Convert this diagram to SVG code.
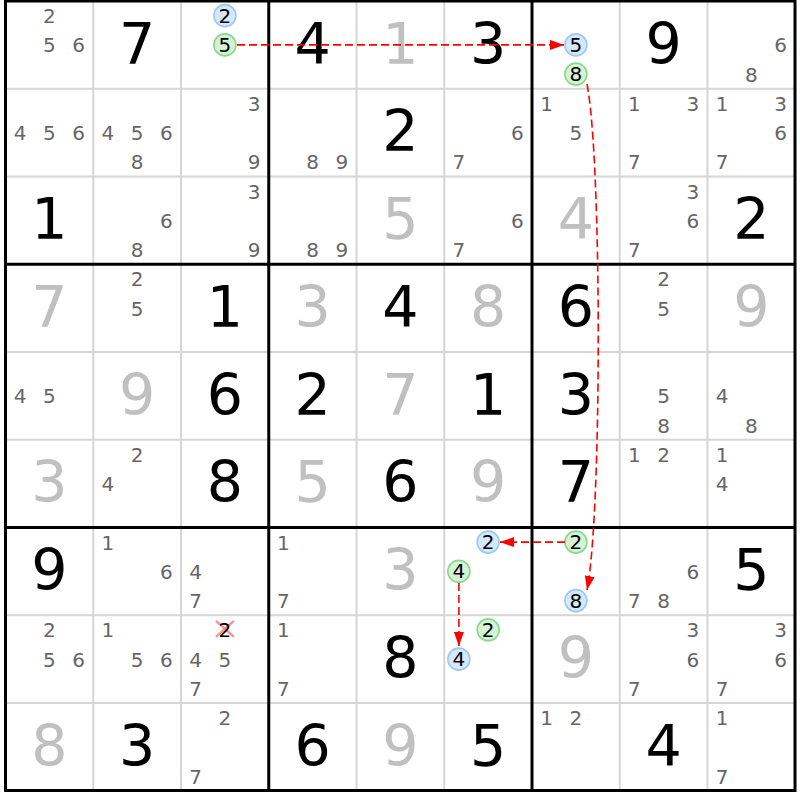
<svg xmlns="http://www.w3.org/2000/svg" width="800" height="800" viewBox="0 0 800 800">
<defs>
<style>
text{font-family:"DejaVu Sans","Liberation Sans",sans-serif;text-anchor:middle}
.g{font-size:57px;fill:#000}
.s{font-size:57px;fill:#c0c0c0}
.c{font-size:20px;fill:#666}
.k{font-size:20px;fill:#000}
.thin{stroke:#d6d6d6;stroke-width:2}
.thick{stroke:#000;stroke-width:3;fill:none}
.cb{fill:#d6e8fb;stroke:#9cc9f4;stroke-width:1.6}
.cg{fill:#d6f3d6;stroke:#8ad88a;stroke-width:1.6}
.arr{stroke:#ff0000;stroke-width:1.6;stroke-dasharray:8 4;fill:none;marker-end:url(#ah)}
.x{stroke:#f07a7a;stroke-width:2.4;stroke-opacity:0.8}
</style>
<marker id="ah" markerUnits="userSpaceOnUse" markerWidth="15" markerHeight="11" refX="14" refY="5" orient="auto">
<path d="M0,0 L14,5 L0,10 z" fill="#ff0000"/>
</marker>
</defs>
<rect width="800" height="800" fill="#fff"/>
<g id="grid">
<g class="thin">
<line x1="93.25" y1="1" x2="93.25" y2="790"/><line x1="181" y1="1" x2="181" y2="790"/>
<line x1="356.5" y1="1" x2="356.5" y2="790"/><line x1="444.25" y1="1" x2="444.25" y2="790"/>
<line x1="619.75" y1="1" x2="619.75" y2="790"/><line x1="707.5" y1="1" x2="707.5" y2="790"/>
<line x1="5.5" y1="88.75" x2="795" y2="88.75"/><line x1="5.5" y1="176.5" x2="795" y2="176.5"/>
<line x1="5.5" y1="352" x2="795" y2="352"/><line x1="5.5" y1="439.75" x2="795" y2="439.75"/>
<line x1="5.5" y1="615.25" x2="795" y2="615.25"/><line x1="5.5" y1="703" x2="795" y2="703"/>
</g>
<g class="thick">
<line x1="268.75" y1="1" x2="268.75" y2="790"/><line x1="532" y1="1" x2="532" y2="790"/>
<line x1="5.5" y1="264.25" x2="795" y2="264.25"/><line x1="5.5" y1="527.5" x2="795" y2="527.5"/>
<rect x="5.5" y="1" width="789.5" height="789.5"/>
</g>
</g>
<g id="cells">
<!-- row 1 -->
<g id="r1c1" transform="translate(5.5,1)"><text class="c" x="43.9" y="22.1">2</text><text class="c" x="43.9" y="51.4">5</text><text class="c" x="73.1" y="51.4">6</text></g>
<g id="r1c2" transform="translate(93.25,1)"><text class="g" x="43.9" y="62.5">7</text></g>
<g id="r1c3" transform="translate(181,1)"><circle class="cb" cx="43.9" cy="14.6" r="11"/><text class="k" x="43.9" y="21.6">2</text><circle class="cg" cx="43.9" cy="43.9" r="11"/><text class="k" x="43.9" y="50.9">5</text></g>
<g id="r1c4" transform="translate(268.75,1)"><text class="g" x="43.9" y="62.5">4</text></g>
<g id="r1c5" transform="translate(356.5,1)"><text class="s" x="43.9" y="62.5">1</text></g>
<g id="r1c6" transform="translate(444.25,1)"><text class="g" x="43.9" y="62.5">3</text></g>
<g id="r1c7" transform="translate(532,1)"><circle class="cb" cx="43.9" cy="43.9" r="11"/><text class="k" x="43.9" y="50.9">5</text><circle class="cg" cx="43.9" cy="73.1" r="11"/><text class="k" x="43.9" y="80.1">8</text></g>
<g id="r1c8" transform="translate(619.75,1)"><text class="g" x="43.9" y="62.5">9</text></g>
<g id="r1c9" transform="translate(707.5,1)"><text class="c" x="73.1" y="51.4">6</text><text class="c" x="43.9" y="80.6">8</text></g>
<!-- row 2 -->
<g id="r2c1" transform="translate(5.5,88.75)"><text class="c" x="14.6" y="51.4">4</text><text class="c" x="43.9" y="51.4">5</text><text class="c" x="73.1" y="51.4">6</text></g>
<g id="r2c2" transform="translate(93.25,88.75)"><text class="c" x="14.6" y="51.4">4</text><text class="c" x="43.9" y="51.4">5</text><text class="c" x="73.1" y="51.4">6</text><text class="c" x="43.9" y="80.6">8</text></g>
<g id="r2c3" transform="translate(181,88.75)"><text class="c" x="73.1" y="22.1">3</text><text class="c" x="73.1" y="80.6">9</text></g>
<g id="r2c4" transform="translate(268.75,88.75)"><text class="c" x="43.9" y="80.6">8</text><text class="c" x="73.1" y="80.6">9</text></g>
<g id="r2c5" transform="translate(356.5,88.75)"><text class="g" x="43.9" y="62.5">2</text></g>
<g id="r2c6" transform="translate(444.25,88.75)"><text class="c" x="73.1" y="51.4">6</text><text class="c" x="14.6" y="80.6">7</text></g>
<g id="r2c7" transform="translate(532,88.75)"><text class="c" x="14.6" y="22.1">1</text><text class="c" x="43.9" y="51.4">5</text></g>
<g id="r2c8" transform="translate(619.75,88.75)"><text class="c" x="14.6" y="22.1">1</text><text class="c" x="73.1" y="22.1">3</text><text class="c" x="14.6" y="80.6">7</text></g>
<g id="r2c9" transform="translate(707.5,88.75)"><text class="c" x="14.6" y="22.1">1</text><text class="c" x="73.1" y="22.1">3</text><text class="c" x="73.1" y="51.4">6</text><text class="c" x="14.6" y="80.6">7</text></g>
<!-- row 3 -->
<g id="r3c1" transform="translate(5.5,176.5)"><text class="g" x="43.9" y="62.5">1</text></g>
<g id="r3c2" transform="translate(93.25,176.5)"><text class="c" x="73.1" y="51.4">6</text><text class="c" x="43.9" y="80.6">8</text></g>
<g id="r3c3" transform="translate(181,176.5)"><text class="c" x="73.1" y="22.1">3</text><text class="c" x="73.1" y="80.6">9</text></g>
<g id="r3c4" transform="translate(268.75,176.5)"><text class="c" x="43.9" y="80.6">8</text><text class="c" x="73.1" y="80.6">9</text></g>
<g id="r3c5" transform="translate(356.5,176.5)"><text class="s" x="43.9" y="62.5">5</text></g>
<g id="r3c6" transform="translate(444.25,176.5)"><text class="c" x="73.1" y="51.4">6</text><text class="c" x="14.6" y="80.6">7</text></g>
<g id="r3c7" transform="translate(532,176.5)"><text class="s" x="43.9" y="62.5">4</text></g>
<g id="r3c8" transform="translate(619.75,176.5)"><text class="c" x="73.1" y="22.1">3</text><text class="c" x="73.1" y="51.4">6</text><text class="c" x="14.6" y="80.6">7</text></g>
<g id="r3c9" transform="translate(707.5,176.5)"><text class="g" x="43.9" y="62.5">2</text></g>
<!-- row 4 -->
<g id="r4c1" transform="translate(5.5,264.25)"><text class="s" x="43.9" y="62.5">7</text></g>
<g id="r4c2" transform="translate(93.25,264.25)"><text class="c" x="43.9" y="22.1">2</text><text class="c" x="43.9" y="51.4">5</text></g>
<g id="r4c3" transform="translate(181,264.25)"><text class="g" x="43.9" y="62.5">1</text></g>
<g id="r4c4" transform="translate(268.75,264.25)"><text class="s" x="43.9" y="62.5">3</text></g>
<g id="r4c5" transform="translate(356.5,264.25)"><text class="g" x="43.9" y="62.5">4</text></g>
<g id="r4c6" transform="translate(444.25,264.25)"><text class="s" x="43.9" y="62.5">8</text></g>
<g id="r4c7" transform="translate(532,264.25)"><text class="g" x="43.9" y="62.5">6</text></g>
<g id="r4c8" transform="translate(619.75,264.25)"><text class="c" x="43.9" y="22.1">2</text><text class="c" x="43.9" y="51.4">5</text></g>
<g id="r4c9" transform="translate(707.5,264.25)"><text class="s" x="43.9" y="62.5">9</text></g>
<!-- row 5 -->
<g id="r5c1" transform="translate(5.5,352)"><text class="c" x="14.6" y="51.4">4</text><text class="c" x="43.9" y="51.4">5</text></g>
<g id="r5c2" transform="translate(93.25,352)"><text class="s" x="43.9" y="62.5">9</text></g>
<g id="r5c3" transform="translate(181,352)"><text class="g" x="43.9" y="62.5">6</text></g>
<g id="r5c4" transform="translate(268.75,352)"><text class="g" x="43.9" y="62.5">2</text></g>
<g id="r5c5" transform="translate(356.5,352)"><text class="s" x="43.9" y="62.5">7</text></g>
<g id="r5c6" transform="translate(444.25,352)"><text class="g" x="43.9" y="62.5">1</text></g>
<g id="r5c7" transform="translate(532,352)"><text class="g" x="43.9" y="62.5">3</text></g>
<g id="r5c8" transform="translate(619.75,352)"><text class="c" x="43.9" y="51.4">5</text><text class="c" x="43.9" y="80.6">8</text></g>
<g id="r5c9" transform="translate(707.5,352)"><text class="c" x="14.6" y="51.4">4</text><text class="c" x="43.9" y="80.6">8</text></g>
<!-- row 6 -->
<g id="r6c1" transform="translate(5.5,439.75)"><text class="s" x="43.9" y="62.5">3</text></g>
<g id="r6c2" transform="translate(93.25,439.75)"><text class="c" x="43.9" y="22.1">2</text><text class="c" x="14.6" y="51.4">4</text></g>
<g id="r6c3" transform="translate(181,439.75)"><text class="g" x="43.9" y="62.5">8</text></g>
<g id="r6c4" transform="translate(268.75,439.75)"><text class="s" x="43.9" y="62.5">5</text></g>
<g id="r6c5" transform="translate(356.5,439.75)"><text class="g" x="43.9" y="62.5">6</text></g>
<g id="r6c6" transform="translate(444.25,439.75)"><text class="s" x="43.9" y="62.5">9</text></g>
<g id="r6c7" transform="translate(532,439.75)"><text class="g" x="43.9" y="62.5">7</text></g>
<g id="r6c8" transform="translate(619.75,439.75)"><text class="c" x="14.6" y="22.1">1</text><text class="c" x="43.9" y="22.1">2</text></g>
<g id="r6c9" transform="translate(707.5,439.75)"><text class="c" x="14.6" y="22.1">1</text><text class="c" x="14.6" y="51.4">4</text></g>
<!-- row 7 -->
<g id="r7c1" transform="translate(5.5,527.5)"><text class="g" x="43.9" y="62.5">9</text></g>
<g id="r7c2" transform="translate(93.25,527.5)"><text class="c" x="14.6" y="22.1">1</text><text class="c" x="73.1" y="51.4">6</text></g>
<g id="r7c3" transform="translate(181,527.5)"><text class="c" x="14.6" y="51.4">4</text><text class="c" x="14.6" y="80.6">7</text></g>
<g id="r7c4" transform="translate(268.75,527.5)"><text class="c" x="14.6" y="22.1">1</text><text class="c" x="14.6" y="80.6">7</text></g>
<g id="r7c5" transform="translate(356.5,527.5)"><text class="s" x="43.9" y="62.5">3</text></g>
<g id="r7c6" transform="translate(444.25,527.5)"><circle class="cb" cx="43.9" cy="14.6" r="11"/><text class="k" x="43.9" y="21.6">2</text><circle class="cg" cx="14.6" cy="43.9" r="11"/><text class="k" x="14.6" y="50.9">4</text></g>
<g id="r7c7" transform="translate(532,527.5)"><circle class="cg" cx="43.9" cy="14.6" r="11"/><text class="k" x="43.9" y="21.6">2</text><circle class="cb" cx="43.9" cy="73.1" r="11"/><text class="k" x="43.9" y="80.1">8</text></g>
<g id="r7c8" transform="translate(619.75,527.5)"><text class="c" x="73.1" y="51.4">6</text><text class="c" x="14.6" y="80.6">7</text><text class="c" x="43.9" y="80.6">8</text></g>
<g id="r7c9" transform="translate(707.5,527.5)"><text class="g" x="43.9" y="62.5">5</text></g>
<!-- row 8 -->
<g id="r8c1" transform="translate(5.5,615.25)"><text class="c" x="43.9" y="22.1">2</text><text class="c" x="43.9" y="51.4">5</text><text class="c" x="73.1" y="51.4">6</text></g>
<g id="r8c2" transform="translate(93.25,615.25)"><text class="c" x="14.6" y="22.1">1</text><text class="c" x="43.9" y="51.4">5</text><text class="c" x="73.1" y="51.4">6</text></g>
<g id="r8c3" transform="translate(181,615.25)"><line class="x" x1="34.9" y1="5.6" x2="52.9" y2="21.6"/><line class="x" x1="52.9" y1="5.6" x2="34.9" y2="21.6"/><text class="k" x="43.9" y="22.1">2</text><text class="c" x="14.6" y="51.4">4</text><text class="c" x="43.9" y="51.4">5</text><text class="c" x="14.6" y="80.6">7</text></g>
<g id="r8c4" transform="translate(268.75,615.25)"><text class="c" x="14.6" y="22.1">1</text><text class="c" x="14.6" y="80.6">7</text></g>
<g id="r8c5" transform="translate(356.5,615.25)"><text class="g" x="43.9" y="62.5">8</text></g>
<g id="r8c6" transform="translate(444.25,615.25)"><circle class="cg" cx="43.9" cy="14.6" r="11"/><text class="k" x="43.9" y="21.6">2</text><circle class="cb" cx="14.6" cy="43.9" r="11"/><text class="k" x="14.6" y="50.9">4</text></g>
<g id="r8c7" transform="translate(532,615.25)"><text class="s" x="43.9" y="62.5">9</text></g>
<g id="r8c8" transform="translate(619.75,615.25)"><text class="c" x="73.1" y="22.1">3</text><text class="c" x="73.1" y="51.4">6</text><text class="c" x="14.6" y="80.6">7</text></g>
<g id="r8c9" transform="translate(707.5,615.25)"><text class="c" x="73.1" y="22.1">3</text><text class="c" x="73.1" y="51.4">6</text><text class="c" x="14.6" y="80.6">7</text></g>
<!-- row 9 -->
<g id="r9c1" transform="translate(5.5,703)"><text class="s" x="43.9" y="62.5">8</text></g>
<g id="r9c2" transform="translate(93.25,703)"><text class="g" x="43.9" y="62.5">3</text></g>
<g id="r9c3" transform="translate(181,703)"><text class="c" x="43.9" y="22.1">2</text><text class="c" x="14.6" y="80.6">7</text></g>
<g id="r9c4" transform="translate(268.75,703)"><text class="g" x="43.9" y="62.5">6</text></g>
<g id="r9c5" transform="translate(356.5,703)"><text class="s" x="43.9" y="62.5">9</text></g>
<g id="r9c6" transform="translate(444.25,703)"><text class="g" x="43.9" y="62.5">5</text></g>
<g id="r9c7" transform="translate(532,703)"><text class="c" x="14.6" y="22.1">1</text><text class="c" x="43.9" y="22.1">2</text></g>
<g id="r9c8" transform="translate(619.75,703)"><text class="g" x="43.9" y="62.5">4</text></g>
<g id="r9c9" transform="translate(707.5,703)"><text class="c" x="14.6" y="22.1">1</text><text class="c" x="14.6" y="80.6">7</text></g>
</g>
<g id="connectors">
<path class="arr" d="M237,44.9 L564,44.9"/>
<path class="arr" d="M587,84 C602,160 602,515 587,590"/>
<path class="arr" d="M565,542.1 L500,542.1"/>
<path class="arr" d="M458.9,583 L458.9,646"/>
</g>
</svg>
